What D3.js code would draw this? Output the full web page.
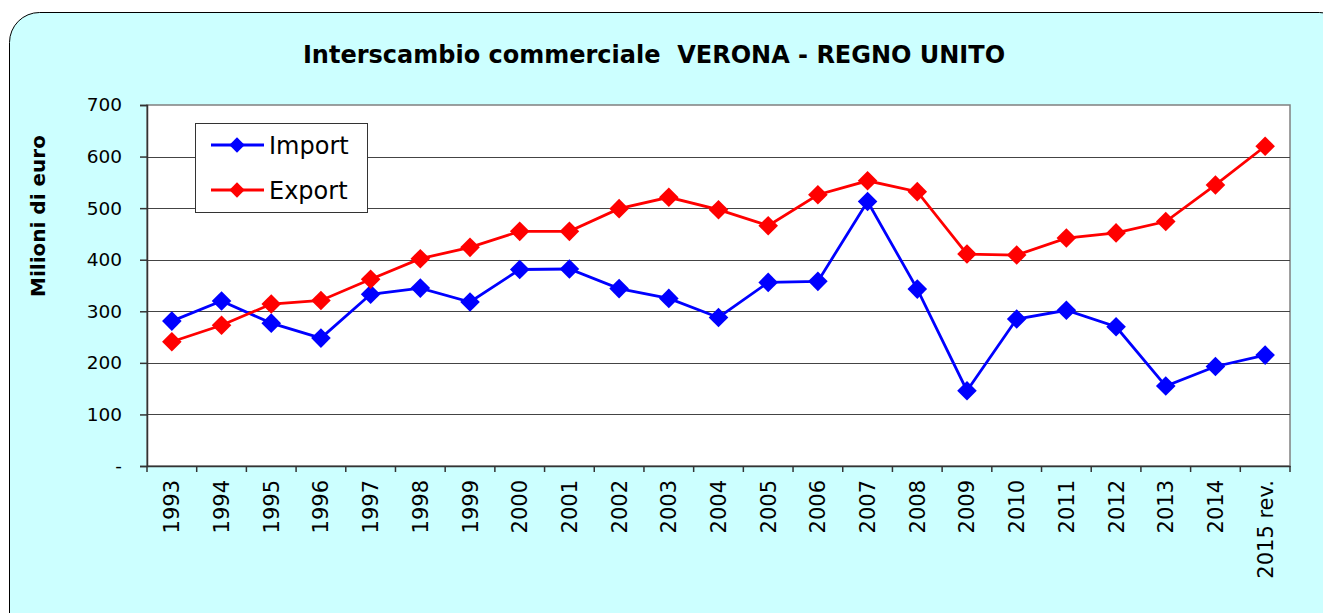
<!DOCTYPE html>
<html>
<head>
<meta charset="utf-8">
<script src="https://cdn.jsdelivr.net/npm/d3@7"></script>
<style>
	body { margin: 0; background: #fff; }
	svg { display: block; font-family: Verdana, "DejaVu Sans", sans-serif; }
</style>
</head>
<body>
<div id="chart"></div>
<script>

var years = ["1993","1994","1995","1996","1997","1998","1999","2000","2001","2002","2003","2004",
	"2005","2006","2007","2008","2009","2010","2011","2012","2013","2014","2015 rev."];
var importValues = [281,320,277,248,333,345,318,381,382,344,325,288,356,358,513,343,146,285,302,270,155,193,215];
var exportValues = [241,273,314,321,362,402,424,455,455,499,521,497,466,526,553,532,411,409,442,452,474,545,620];
var yTicks = [0,100,200,300,400,500,600,700];

var W = 1323, H = 613;
var plot = { left: 147, top: 105, right: 1290, bottom: 466 };
var font = "Verdana, 'DejaVu Sans', sans-serif";

var svg = d3.select("#chart").append("svg")
	.attr("width", W)
	.attr("height", H);

// Outer frame
svg.append("rect")
	.attr("x", 9.5).attr("y", 12.5)
	.attr("width", 1340).attr("height", 640)
	.attr("rx", 30).attr("ry", 30)
	.attr("fill", "#ccffff")
	.attr("stroke", "#000")
	.attr("stroke-width", 1);

svg.append("text")
	.attr("x", 654).attr("y", 63)
	.attr("text-anchor", "middle")
	.attr("font-size", 24)
	.attr("font-weight", "bold")
	.style("white-space", "pre")
	.text("Interscambio commerciale  VERONA - REGNO UNITO");

var x = d3.scaleBand().domain(years).range([plot.left, plot.right]);
var y = d3.scaleLinear().domain([0, 700]).range([plot.bottom, plot.top]);

// Plot background
svg.append("rect")
	.attr("x", plot.left).attr("y", plot.top)
	.attr("width", plot.right - plot.left).attr("height", plot.bottom - plot.top)
	.attr("fill", "#fff")
	.attr("stroke", "#808080")
	.attr("stroke-width", 1.5);

// Grid
svg.append("g").selectAll("line")
	.data(yTicks.slice(1, -1))
	.join("line")
	.attr("x1", plot.left).attr("x2", plot.right)
	.attr("y1", function(d) { return Math.round(y(d)) + 0.5; })
	.attr("y2", function(d) { return Math.round(y(d)) + 0.5; })
	.attr("stroke", "#444")
	.attr("stroke-width", 1);

// Y axis
var yAxis = svg.append("g")
	.attr("transform", "translate(" + plot.left + ",0)")
	.call(d3.axisLeft(y).tickValues(yTicks).tickSize(7).tickPadding(18)
		.tickFormat(function(d) { return d === 0 ? "-" : d; }));
yAxis.selectAll("text").attr("font-size", 18.5).attr("fill", "#000")
	.style("font-family", font);
yAxis.selectAll("line, path").attr("stroke", "#333").attr("stroke-width", 1.5);

// X axis
var xAxis = svg.append("g")
	.attr("transform", "translate(0," + plot.bottom + ")")
	.call(d3.axisBottom(x).tickSize(0).tickFormat(""));
xAxis.select("path").attr("stroke", "#333").attr("stroke-width", 1.5);

svg.append("g").selectAll("line")
	.data(years.concat(["end"]))
	.join("line")
	.attr("x1", function(d, i) { return plot.left + i * x.step(); })
	.attr("x2", function(d, i) { return plot.left + i * x.step(); })
	.attr("y1", plot.bottom).attr("y2", plot.bottom + 6)
	.attr("stroke", "#333").attr("stroke-width", 1.5);

svg.append("g").selectAll("text")
	.data(years)
	.join("text")
	.attr("transform", function(d) {
		return "translate(" + (x(d) + x.bandwidth() / 2 + 7.5) + "," + (plot.bottom + 14) + ") rotate(-90)";
	})
	.attr("text-anchor", "end")
	.attr("font-size", 21)
	.text(function(d) { return d; });

// Y title
svg.append("text")
	.attr("transform", "translate(45,216) rotate(-90)")
	.attr("text-anchor", "middle")
	.attr("font-size", 20)
	.attr("font-weight", "bold")
	.text("Milioni di euro");

var diamond = d3.symbol().type(d3.symbolDiamond2).size(245);
var line = d3.line()
	.x(function(d, i) { return x(years[i]) + x.bandwidth() / 2; })
	.y(function(d) { return y(d); });

function drawSeries(values, color) {
	svg.append("path")
		.datum(values)
		.attr("d", line)
		.attr("fill", "none")
		.attr("stroke", color)
		.attr("stroke-width", 2.8);
	svg.append("g").selectAll("path")
		.data(values)
		.join("path")
		.attr("d", diamond)
		.attr("transform", function(d, i) {
			return "translate(" + (x(years[i]) + x.bandwidth() / 2) + "," + y(d) + ")";
		})
		.attr("fill", color);
}

drawSeries(importValues, "#0000ff");
drawSeries(exportValues, "#ff0000");

// Legend
var legend = svg.append("g");
legend.append("rect")
	.attr("x", 195.5).attr("y", 123.5)
	.attr("width", 172).attr("height", 89)
	.attr("fill", "#fff")
	.attr("stroke", "#333")
	.attr("stroke-width", 1);

[["Import", "#0000ff", 145], ["Export", "#ff0000", 190]].forEach(function(item) {
	legend.append("line")
		.attr("x1", 211).attr("x2", 264)
		.attr("y1", item[2]).attr("y2", item[2])
		.attr("stroke", item[1]).attr("stroke-width", 2.8);
	legend.append("path")
		.attr("d", d3.symbol().type(d3.symbolDiamond2).size(150))
		.attr("transform", "translate(237," + item[2] + ")")
		.attr("fill", item[1]);
	legend.append("text")
		.attr("x", 269).attr("y", item[2] + 9)
		.attr("font-size", 24)
		.text(item[0]);
});

</script>
</body>
</html>
